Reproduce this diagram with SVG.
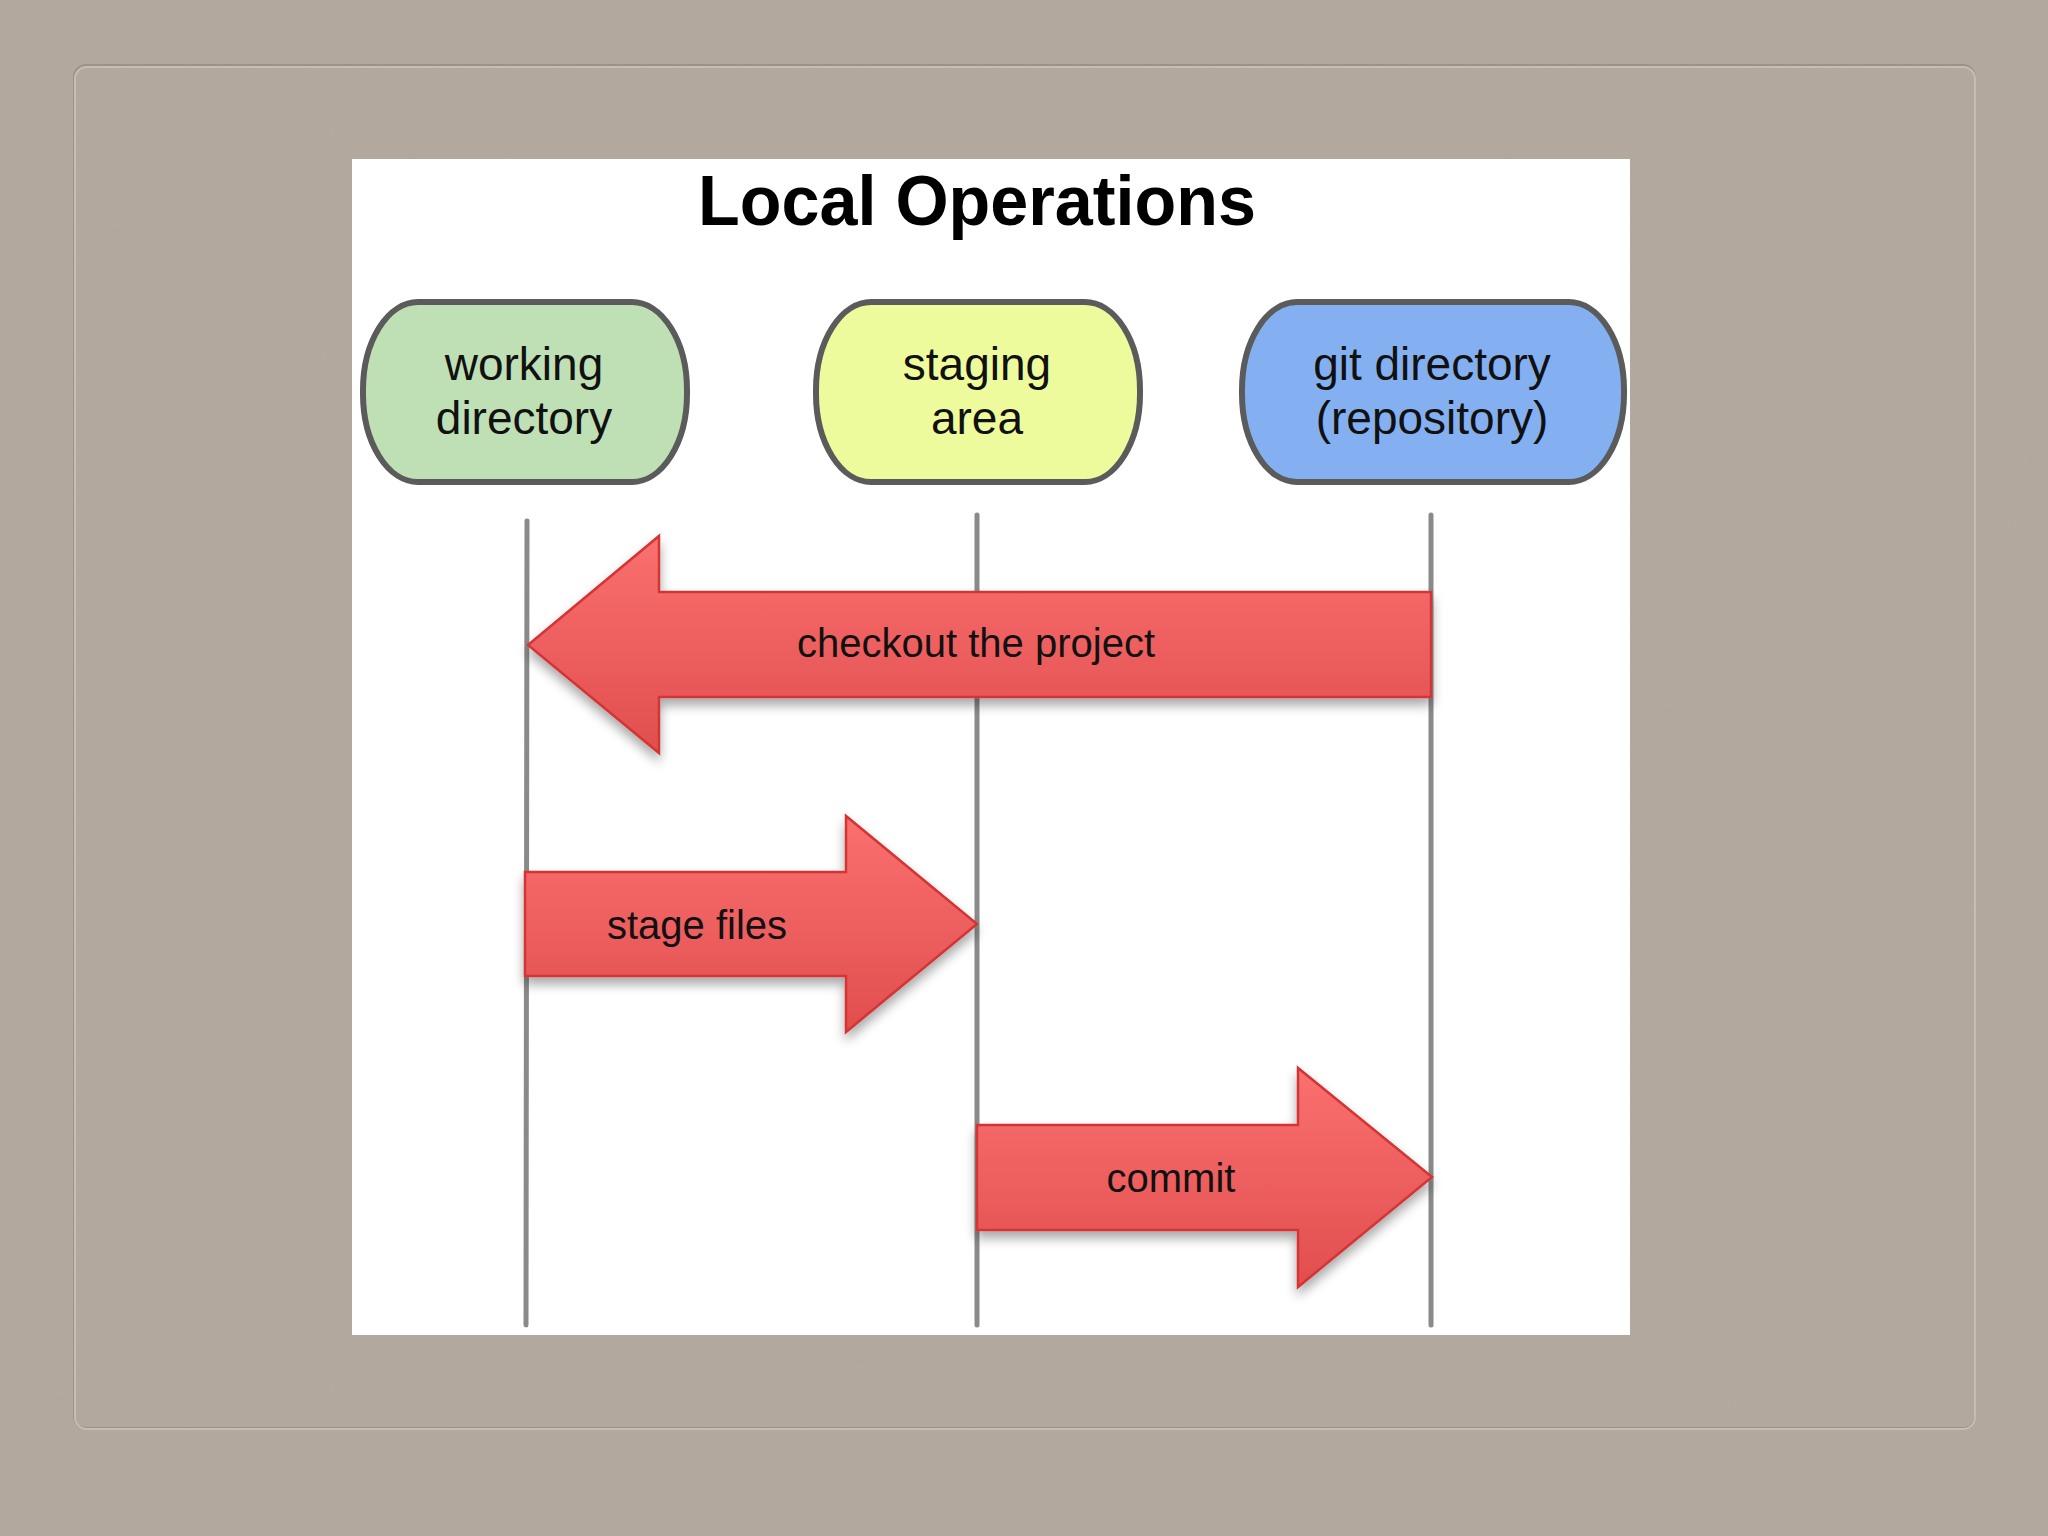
<svg xmlns="http://www.w3.org/2000/svg" width="2048" height="1536" viewBox="0 0 2048 1536">
<defs>
<style>
.node-box{stroke:#5b5b5b;stroke-width:6}
.node-text{font-family:"Liberation Sans",Arial,sans-serif;font-size:46px;fill:#111;text-anchor:middle}
.lane{stroke:#8a8a8a;stroke-width:5;stroke-linecap:round}
.arrow{fill:url(#redGrad);stroke:#d33434;stroke-width:2.5;stroke-linejoin:miter;filter:url(#shadow)}
.arrow-text{font-family:"Liberation Sans",Arial,sans-serif;font-size:40px;fill:#111;text-anchor:middle}
</style>
<linearGradient id="redGrad" x1="0" y1="0" x2="0" y2="1">
<stop offset="0" stop-color="#fb7070"/>
<stop offset="1" stop-color="#e14e4e"/>
</linearGradient>
<filter id="shadow" x="-10%" y="-10%" width="120%" height="130%">
<feGaussianBlur in="SourceAlpha" stdDeviation="6"/>
<feOffset dx="0" dy="7" result="b"/>
<feComponentTransfer><feFuncA type="linear" slope="0.35"/></feComponentTransfer>
<feMerge><feMergeNode/><feMergeNode in="SourceGraphic"/></feMerge>
</filter>
<filter id="noise" x="0" y="0" width="100%" height="100%">
<feTurbulence type="fractalNoise" baseFrequency="0.9" numOctaves="2" seed="3"/>
<feColorMatrix type="matrix" values="0 0 0 0 0.45  0 0 0 0 0.41  0 0 0 0 0.37  0 0 0 -1.6 1.0"/>
</filter>
</defs>

<!-- background -->
<rect x="0" y="0" width="2048" height="1536" fill="#b3a89d"/>
<rect x="0" y="0" width="2048" height="1536" filter="url(#noise)" opacity="0.35"/>
<rect x="74" y="65" width="1901" height="1363" rx="12" fill="none" stroke="#9d9287" stroke-width="2"/>
<rect x="75" y="67" width="1900" height="1362" rx="12" fill="none" stroke="#c6bdb3" stroke-width="2"/>

<!-- white panel -->
<rect x="352" y="159" width="1278" height="1176" fill="#ffffff"/>

<text x="977" y="225" font-family="'Liberation Sans',Arial,sans-serif" font-weight="bold" font-size="70" fill="#000" text-anchor="middle" textLength="558" lengthAdjust="spacingAndGlyphs">Local Operations</text>

<!-- lifelines and arrows -->
<g id="connectors">
<line class="lane" x1="527" y1="521" x2="526" y2="1325"/>
<line class="lane" x1="977" y1="515" x2="977" y2="1325"/>
<line class="lane" x1="1431" y1="515" x2="1431" y2="1325"/>

<g id="arrow-checkout">
<path class="arrow" d="M1431,592 L659,592 L659,536 L528,645 L659,753 L659,697 L1431,697 Z"/>
<text class="arrow-text" x="976" y="657">checkout the project</text>
</g>
<g id="arrow-stage">
<path class="arrow" d="M525,872 L846,872 L846,816 L977,924 L846,1032 L846,976 L525,976 Z"/>
<text class="arrow-text" x="697" y="939">stage files</text>
</g>
<g id="arrow-commit">
<path class="arrow" d="M977,1125 L1298,1125 L1298,1068 L1432,1177 L1298,1287 L1298,1230 L977,1230 Z"/>
<text class="arrow-text" x="1171" y="1192">commit</text>
</g>
</g>

<!-- nodes -->
<g id="node-working">
<rect class="node-box" x="363" y="302" width="324" height="180" rx="55" ry="88" fill="#bfe0b5"/>
<text class="node-text" x="524" y="380">working</text>
<text class="node-text" x="524" y="434">directory</text>
</g>
<g id="node-staging">
<rect class="node-box" x="816" y="302" width="324" height="180" rx="55" ry="88" fill="#eefb9c"/>
<text class="node-text" x="977" y="380">staging</text>
<text class="node-text" x="977" y="434">area</text>
</g>
<g id="node-git">
<rect class="node-box" x="1242" y="302" width="382" height="180" rx="55" ry="88" fill="#84b0f2"/>
<text class="node-text" x="1432" y="380">git directory</text>
<text class="node-text" x="1432" y="434">(repository)</text>
</g>
</svg>
